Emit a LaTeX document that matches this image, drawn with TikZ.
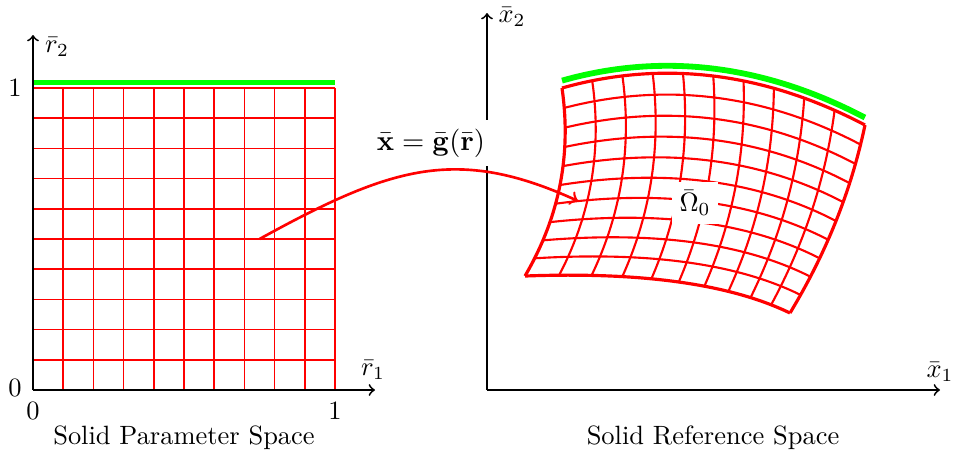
\documentclass[tikz,border=0pt]{standalone}
\usepackage{amsmath}
\begin{document}
\begin{tikzpicture}[x=0.378pt,y=-0.378pt,
  declare function={
    bza(\t)=(1-\t)*(1-\t); bzb(\t)=2*\t*(1-\t); bzc(\t)=\t*\t;
    gx(\u,\v)=bza(\v)*(bza(\u)*525+bzb(\u)*700+bzc(\u)*790)
             +bzb(\v)*(bza(\u)*576.5+bzb(\u)*731.5+bzc(\u)*844.5)
             +bzc(\v)*(bza(\u)*562+bzb(\u)*713+bzc(\u)*865);
    gy(\u,\v)=bza(\v)*(bza(\u)*276+bzb(\u)*269.5+bzc(\u)*313)
             +bzb(\v)*(bza(\u)*188+bzb(\u)*162.5+bzc(\u)*223)
             +bzc(\v)*(bza(\u)*88+bzb(\u)*45.5+bzc(\u)*125);
  },
  paramgrid/.style={red, line width=0.6pt},
  refgrid/.style={red, line width=0.8pt, line join=round},
  refedge/.style={red, line width=1.2pt, line join=round},
  bound/.style={green, line width=2.2pt},
  axis/.style={black, line width=0.7pt, ->},
  lbl/.style={inner sep=0pt},
  mapping/.style={red, line width=1pt, ->}
]
\useasboundingbox (0,0) rectangle (956,459);

% ---------- parameter space ----------
\foreach \i in {0,...,10} {
  \draw[paramgrid] ({33+30.2*\i},88) -- ({33+30.2*\i},390);
  \draw[paramgrid] (33,{390-30.2*\i}) -- (335,{390-30.2*\i});
}
\draw[bound] (33,82.5) -- (335,82.5);
\coordinate (po) at (33,390);
\coordinate (pr1) at (375,390);
\coordinate (pr2) at (33,35);
\draw[axis] (po) -- (pr1);
\draw[axis] (po) -- (pr2);
\node[lbl] (one2) at (15,88) {$1$};
\node[lbl] (zero2) at (15,388) {$0$};
\node[lbl] (zero1) at (33,411) {$0$};
\node[lbl] (one1) at (335,411) {$1$};
\node[lbl] (r2) at (57,47) {$\bar{r}_2$};
\node[lbl] (r1) at (373,370) {$\bar{r}_1$};
\node[lbl] (pspace) at (184,438) {Solid Parameter Space};

% ---------- reference space ----------
\coordinate (xo) at (487,390);
\coordinate (xr1) at (940,390);
\coordinate (xr2) at (487,13);
\draw[axis] (xo) -- (xr1);
\draw[axis] (xo) -- (xr2);
\node[lbl] (x2) at (512,17) {$\bar{x}_2$};
\node[lbl] (x1) at (940,372) {$\bar{x}_1$};
\node[lbl] (rspace) at (713,438) {Solid Reference Space};

\foreach \i in {1,...,9} {
  \draw[refgrid] plot[variable=\t,domain=0:1,samples=25,smooth] ({gx(\i/10,\t)},{gy(\i/10,\t)});
  \draw[refgrid] plot[variable=\t,domain=0:1,samples=25,smooth] ({gx(\t,\i/10)},{gy(\t,\i/10)});
}
\foreach \i in {0,1} {
  \draw[refedge] plot[variable=\t,domain=0:1,samples=25,smooth] ({gx(\i,\t)},{gy(\i,\t)});
  \draw[refedge] plot[variable=\t,domain=0:1,samples=25,smooth] ({gx(\t,\i)},{gy(\t,\i)});
}
\draw[bound, yshift=2.8pt] plot[variable=\t,domain=0:1,samples=25,smooth] ({gx(\t,1)},{gy(\t,1)});

\node[fill=white, inner sep=3pt] (omega) at (695,203) {$\bar{\Omega}_0$};

% ---------- mapping ----------
\node[fill=white, inner sep=3.2pt, scale=1.08] (map) at (431,143) {$\bar{\mathbf{x}} = \bar{\mathbf{g}}(\bar{\mathbf{r}})$};
\coordinate (from) at (259.5,239);
\coordinate (to) at (578,201);
\draw[mapping] (from) .. controls (392,166) and (457,146) .. (to);
\end{tikzpicture}
\end{document}
